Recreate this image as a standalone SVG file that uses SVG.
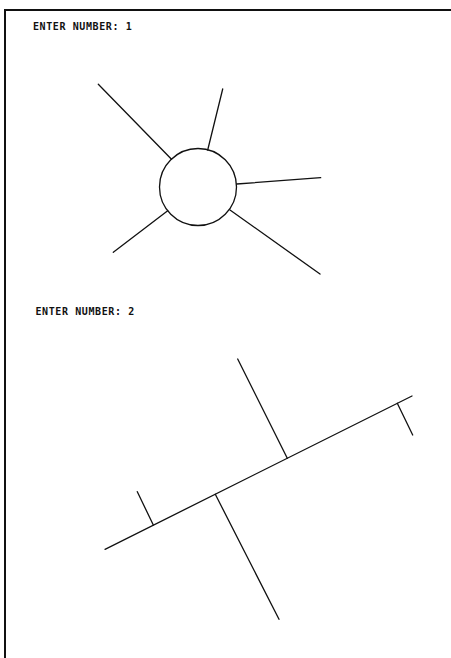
<svg xmlns="http://www.w3.org/2000/svg" width="451" height="658" viewBox="0 0 451 658">
<style>
.t{font-family:"DejaVu Sans Mono","Liberation Mono",monospace;font-size:10px;font-weight:bold;fill:#111;letter-spacing:0.6px}
.l{stroke:#111;stroke-width:1.3;fill:none;stroke-linecap:round}
</style>
<rect width="451" height="658" fill="#fff"/>
<g id="frame"><path d="M5,658 V10 H451" stroke="#111" stroke-width="2" fill="none"/></g>
<g id="label1"><text class="t" x="33" y="30">ENTER NUMBER: 1</text></g>
<g id="label2"><text class="t" x="35.5" y="315">ENTER NUMBER: 2</text></g>
<g id="star">
<circle class="l" cx="198" cy="187" r="38.5"/>
<line class="l" x1="98.3" y1="84.3" x2="171.5" y2="159.3"/>
<line class="l" x1="222.7" y1="89" x2="207.7" y2="150"/>
<line class="l" x1="236.7" y1="184" x2="320.7" y2="177.7"/>
<line class="l" x1="230" y1="210" x2="320" y2="274"/>
<line class="l" x1="167.7" y1="210.7" x2="113.3" y2="252.3"/>
</g>
<g id="tree">
<line class="l" x1="105" y1="549.3" x2="412" y2="396"/>
<line class="l" x1="237.7" y1="359" x2="287.3" y2="458.3"/>
<line class="l" x1="215.3" y1="494.3" x2="279" y2="619.3"/>
<line class="l" x1="137.3" y1="491.7" x2="153.3" y2="525"/>
<line class="l" x1="397.3" y1="403.3" x2="412.7" y2="435"/>
</g>
</svg>
